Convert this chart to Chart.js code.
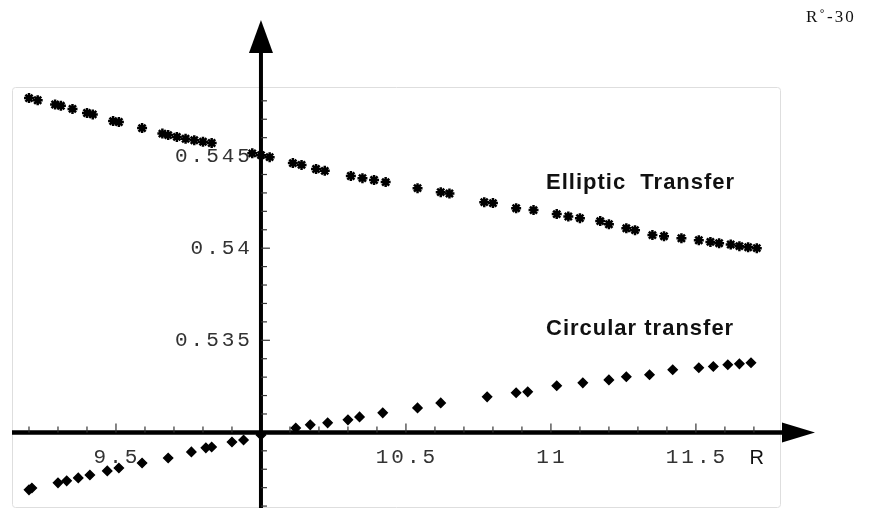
<!DOCTYPE html>
<html>
<head>
<meta charset="utf-8">
<script src="https://cdn.jsdelivr.net/npm/chart.js@4.4.0/dist/chart.umd.min.js"></script>
<style>
  html, body { margin: 0; padding: 0; background: #fff; }
  #wrap { width: 873px; height: 508px; position: relative; }
</style>
</head>
<body>
<div id="wrap"><canvas id="transfer-chart"></canvas></div>
<script>
// values
var ellipticR = [9.20, 9.23, 9.29, 9.31, 9.35, 9.40, 9.42, 9.49, 9.51, 9.59, 9.66, 9.68, 9.71, 9.74, 9.77, 9.80, 9.83, 9.97, 10.00, 10.03,
                 10.11, 10.14, 10.19, 10.22, 10.31, 10.35, 10.39, 10.43, 10.54, 10.62, 10.65, 10.77, 10.80, 10.88, 10.94, 11.02, 11.06, 11.10,
                 11.17, 11.20, 11.26, 11.29, 11.35, 11.39, 11.45, 11.51, 11.55, 11.58, 11.62, 11.65, 11.68, 11.71];
var ellipticV = [0.54815, 0.54803, 0.54780, 0.54773, 0.54756, 0.54734, 0.54726, 0.54690, 0.54685, 0.54652, 0.54622, 0.54614, 0.54604,
                 0.54594, 0.54586, 0.54578, 0.54571, 0.54515, 0.54505, 0.54494, 0.54462, 0.54452, 0.54430, 0.54420, 0.54392, 0.54380,
                 0.54370, 0.54359, 0.54326, 0.54304, 0.54297, 0.54250, 0.54245, 0.54217, 0.54207, 0.54185, 0.54172, 0.54163, 0.54147,
                 0.54130, 0.54108, 0.54098, 0.54071, 0.54065, 0.54054, 0.54043, 0.54034, 0.54027, 0.54020, 0.54011, 0.54005, 0.54000];
var circularR = [9.20, 9.21, 9.30, 9.33, 9.37, 9.41, 9.47, 9.51, 9.59, 9.68, 9.76, 9.81, 9.83, 9.90, 9.94, 10.00, 10.12, 10.17, 10.23,
                 10.30, 10.34, 10.42, 10.54, 10.62, 10.78, 10.88, 10.92, 11.02, 11.11, 11.20, 11.26, 11.34, 11.42, 11.51, 11.56, 11.61,
                 11.65, 11.69];
var circularV = [0.52688, 0.52698, 0.52726, 0.52737, 0.52753, 0.52769, 0.52791, 0.52807, 0.52834, 0.52861, 0.52894, 0.52916, 0.52921,
                 0.52948, 0.52959, 0.52986, 0.53024, 0.53041, 0.53052, 0.53068, 0.53084, 0.53106, 0.53133, 0.53160, 0.53193, 0.53215,
                 0.53220, 0.53253, 0.53269, 0.53285, 0.53302, 0.53313, 0.53340, 0.53351, 0.53358, 0.53367, 0.53372, 0.53378];
var xTickLabels = ['9.5', '10.5', '11', '11.5'];
var yTickLabels = ['0.535', '0.54', '0.545'];
var xOrigin = 10, yOrigin = 0.53;

function toPoints(xs, ys){
    var pts = [];
    for(var i = 0; i < xs.length; i++){
        pts.push({x: xs[i], y: ys[i]});
    }
    return pts;
}

// frame, axes with arrows, ticks and tick labels (Mathematica style)
var axesPlugin = {
    id: 'axesPlugin',
    beforeDatasetsDraw: function(chart){
        var ctx = chart.ctx, a = chart.chartArea;
        var sx = chart.scales.x, sy = chart.scales.y;
        var ox = sx.getPixelForValue(xOrigin), oy = sy.getPixelForValue(yOrigin);
        ctx.save();
        // light frame
        ctx.strokeStyle = '#dedede';
        ctx.lineWidth = 1;
        ctx.beginPath();
        ctx.roundRect(a.left + 0.5, a.top + 0.5, a.right - a.left, a.bottom - a.top, 3);
        ctx.stroke();

        ctx.strokeStyle = '#000';
        ctx.fillStyle = '#000';
        // x axis
        ctx.lineWidth = 4.5;
        ctx.beginPath();
        ctx.moveTo(a.left, oy);
        ctx.lineTo(a.right + 4, oy);
        ctx.stroke();
        ctx.beginPath();
        ctx.moveTo(a.right + 2, oy - 10);
        ctx.lineTo(a.right + 35, oy);
        ctx.lineTo(a.right + 2, oy + 10);
        ctx.closePath();
        ctx.fill();
        // y axis
        ctx.lineWidth = 4;
        ctx.beginPath();
        ctx.moveTo(ox, chart.height);
        ctx.lineTo(ox, 50);
        ctx.stroke();
        ctx.beginPath();
        ctx.moveTo(ox - 12, 53);
        ctx.lineTo(ox, 20);
        ctx.lineTo(ox + 12, 53);
        ctx.closePath();
        ctx.fill();

        // ticks
        ctx.lineWidth = 1.2;
        ctx.strokeStyle = '#333';
        var i, p, len;
        for(i = 92; i <= 117; i++){
            if(i === 100) continue;
            p = sx.getPixelForValue(i / 10);
            len = (i % 5 === 0) ? 7 : 4;
            ctx.beginPath();
            ctx.moveTo(p, oy);
            ctx.lineTo(p, oy - 2 - len);
            ctx.stroke();
        }
        for(i = 526; i <= 548; i++){
            if(i === 530) continue;
            p = sy.getPixelForValue(i / 1000);
            len = (i % 5 === 0) ? 7 : 4;
            ctx.beginPath();
            ctx.moveTo(ox, p);
            ctx.lineTo(ox + 2 + len, p);
            ctx.stroke();
        }

        // tick labels
        ctx.fillStyle = '#333';
        ctx.font = '21px "Liberation Mono", "DejaVu Sans Mono", monospace';
        ctx.letterSpacing = '3px';
        ctx.textAlign = 'center';
        ctx.textBaseline = 'middle';
        for(i = 0; i < xTickLabels.length; i++){
            ctx.fillText(xTickLabels[i], sx.getPixelForValue(parseFloat(xTickLabels[i])) + 1, oy + 25);
        }
        ctx.textAlign = 'right';
        for(i = 0; i < yTickLabels.length; i++){
            ctx.fillText(yTickLabels[i], ox - 8, sy.getPixelForValue(parseFloat(yTickLabels[i])));
        }
        ctx.restore();
    },
    afterDatasetsDraw: function(chart){
        var ctx = chart.ctx;
        var sx = chart.scales.x, sy = chart.scales.y;
        var oy = sy.getPixelForValue(yOrigin);
        ctx.save();
        ctx.fillStyle = '#111';
        ctx.textBaseline = 'middle';
        ctx.textAlign = 'center';
        ctx.font = '20px "Liberation Sans", Arial, sans-serif';
        ctx.fillText('R', sx.getPixelForValue(11.71), oy + 26);
        ctx.textAlign = 'left';
        ctx.font = 'bold 22px "Liberation Sans", Arial, sans-serif';
        ctx.letterSpacing = '1px';
        ctx.fillText('Elliptic  Transfer', 546, sy.getPixelForValue(0.54355));
        ctx.fillText('Circular transfer', 546, sy.getPixelForValue(0.53563));
        ctx.font = '17px "Liberation Serif", "Times New Roman", serif';
        ctx.letterSpacing = '2px';
        ctx.fillText('R\u02DA-30', 806, 18);
        ctx.restore();
    }
};

var ctx = document.getElementById('transfer-chart').getContext('2d');
var data = {
    datasets: [
        {
            label: 'Elliptic Transfer',
            data: toPoints(ellipticR, ellipticV),
            pointStyle: 'star',
            radius: 5,
            borderWidth: 2.5,
            borderColor: '#000',
            backgroundColor: '#000'
        },
        {
            label: 'Circular transfer',
            data: toPoints(circularR, circularV),
            pointStyle: 'rectRot',
            radius: 4.5,
            borderWidth: 1.5,
            borderColor: '#000',
            backgroundColor: '#000'
        }
    ]
};
var options = {
    responsive: true,
    maintainAspectRatio: false,
    animation: false,
    layout: { autoPadding: false, padding: { left: 12, top: 87, right: 93, bottom: 1 } },
    plugins: {
        legend: { display: false },
        tooltip: { enabled: false }
    },
    scales: {
        x: { type: 'linear', min: 9.1414, max: 11.79, display: false },
        y: { type: 'linear', min: 0.52595, max: 0.54875, display: false }
    }
};
var transferChart = new Chart(ctx, {
    type: 'scatter',
    data: data,
    options: options,
    plugins: [axesPlugin]
});
</script>
</body>
</html>
